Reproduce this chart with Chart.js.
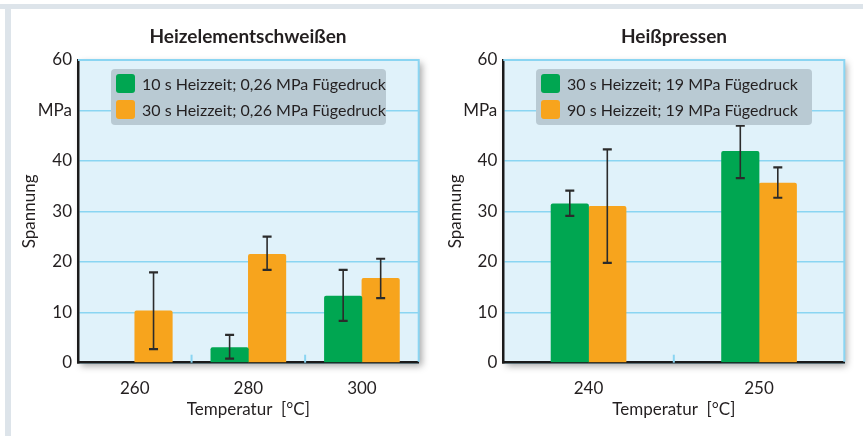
<!DOCTYPE html>
<html>
<head>
<meta charset="utf-8">
<script src="https://cdn.jsdelivr.net/npm/chart.js@4.4.1/dist/chart.umd.min.js"></script>
<style>
  body { margin: 0; background: #fff; font-family: Lato, sans-serif; color: #231f20; }
  #page { position: relative; width: 863px; height: 436px; overflow: hidden; }
  .frame-top { position: absolute; left: 0; top: 4px; width: 863px; height: 5px; background: #dde4ea; }
  .frame-left { position: absolute; left: 5px; top: 9px; width: 6px; height: 427px; background: #dde4ea; }
  .title { position: absolute; top: 24px; width: 300px; text-align: center; font-weight: bold; font-size: 19px; line-height: 24px; }
  .wrap { position: absolute; top: 0; }
  .legend { position: absolute; top: 69px; height: 56px; background: #b9cad3; border-radius: 4px; }
  .legend .item { position: absolute; left: 5px; height: 20px; white-space: nowrap; }
  .legend .sw { position: absolute; left: 0; top: 0; width: 19px; height: 19px; border-radius: 3px; }
  .legend .txt { position: absolute; left: 26px; top: -1px; font-size: 16px; line-height: 21px; }
</style>
</head>
<body>
<div id="page">
  <div class="frame-top"></div>
  <div class="frame-left"></div>

  <div class="wrap" style="left:0"><canvas id="weldChart" width="430" height="436"></canvas></div>
  <div class="wrap" style="left:430px"><canvas id="pressChart" width="433" height="436"></canvas></div>

  <div class="title" style="left:98px">Heizelementschweißen</div>
  <div class="title" style="left:524px">Heißpressen</div>

  <div class="legend" id="weldLegend" style="left:111px;width:275px"></div>
  <div class="legend" id="pressLegend" style="left:536px;width:276px"></div>
</div>

<script>
// axis
const yTickLabels = ['0', '10', '20', '30', '40', 'MPa', '60'];

// Heizelementschweißen
const weldCategories = ['260', '280', '300'];
const weldLabels = ['10 s Heizzeit; 0,26 MPa Fügedruck', '30 s Heizzeit; 0,26 MPa Fügedruck'];
const weldShort = [null, 3.0, 13.2];
const weldShortLow = [null, 0.8, 8.3];
const weldShortHigh = [null, 5.5, 18.4];
const weldLong = [10.3, 21.5, 16.7];
const weldLongLow = [2.7, 18.4, 12.8];
const weldLongHigh = [17.9, 25.0, 20.6];

// Heißpressen
const pressCategories = ['240', '250'];
const pressLabels = ['30 s Heizzeit; 19 MPa Fügedruck', '90 s Heizzeit; 19 MPa Fügedruck'];
const pressShort = [31.5, 41.9];
const pressShortLow = [29.1, 36.6];
const pressShortHigh = [34.1, 47.0];
const pressLong = [31.0, 35.6];
const pressLongLow = [19.8, 32.7];
const pressLongHigh = [42.3, 38.7];

const GREEN = '#00a651';
const ORANGE = '#f7a41d';
const PLOT_BG = '#e0f2fa';
const GRID = '#8ad5f2';
const INK = '#231f20';

Chart.defaults.font.family = 'Lato, sans-serif';
Chart.defaults.color = INK;

// shadow + background behind the plot area
const plotBackground = {
  id: 'plotBackground',
  beforeDraw(chart) {
    const { ctx, chartArea: a } = chart;
    ctx.save();
    ctx.shadowColor = 'rgba(0,0,0,0.35)';
    ctx.shadowBlur = 7;
    ctx.shadowOffsetX = 3;
    ctx.shadowOffsetY = 3;
    ctx.fillStyle = PLOT_BG;
    ctx.fillRect(a.left, a.top, a.right - a.left, a.bottom - a.top);
    ctx.restore();
  },
  beforeDatasetsDraw(chart) {
    // small marks between the categories
    const { ctx, chartArea: a, scales: { x } } = chart;
    ctx.save();
    ctx.strokeStyle = GRID;
    ctx.lineWidth = 2;
    for (let i = 1; i < x.ticks.length; i++) {
      const px = (x.getPixelForTick(i - 1) + x.getPixelForTick(i)) / 2;
      ctx.beginPath();
      ctx.moveTo(px, a.bottom);
      ctx.lineTo(px, a.bottom - 8);
      ctx.stroke();
    }
    ctx.restore();
  },
  afterDraw(chart) {
    // light blue top and right frame
    const { ctx, chartArea: a } = chart;
    ctx.save();
    ctx.strokeStyle = GRID;
    ctx.lineWidth = 2;
    ctx.beginPath();
    ctx.moveTo(a.left, a.top);
    ctx.lineTo(a.right, a.top);
    ctx.lineTo(a.right, a.bottom - 1);
    ctx.stroke();
    ctx.restore();
  }
};

const errorBars = {
  id: 'errorBars',
  afterDatasetsDraw(chart) {
    const { ctx, scales: { y } } = chart;
    ctx.save();
    ctx.strokeStyle = '#2b2b2b';
    chart.data.datasets.forEach((ds, di) => {
      const meta = chart.getDatasetMeta(di);
      ds.data.forEach((v, i) => {
        if (v === null || ds.errLow[i] === null) return;
        const x = meta.data[i].x;
        const yLo = y.getPixelForValue(ds.errLow[i]);
        const yHi = y.getPixelForValue(ds.errHigh[i]);
        ctx.lineWidth = 1.6;
        ctx.beginPath();
        ctx.moveTo(x, yLo);
        ctx.lineTo(x, yHi);
        ctx.stroke();
        ctx.lineWidth = 2.2;
        ctx.beginPath();
        ctx.moveTo(x - 4.5, yLo);
        ctx.lineTo(x + 4.5, yLo);
        ctx.moveTo(x - 4.5, yHi);
        ctx.lineTo(x + 4.5, yHi);
        ctx.stroke();
      });
    });
    ctx.restore();
  }
};

function makeChart(id, categories, labels, series, opts) {
  const colors = [GREEN, ORANGE];
  return new Chart(document.getElementById(id), {
    type: 'bar',
    data: {
      labels: categories,
      datasets: series.map((s, i) => ({
        label: labels[i],
        data: s.values,
        errLow: s.low,
        errHigh: s.high,
        backgroundColor: colors[i],
        borderWidth: 0,
        borderRadius: 2,
        barThickness: 37.5
      }))
    },
    options: {
      responsive: false,
      animation: false,
      layout: { padding: { top: 60, right: opts.right, left: 0, bottom: 0 } },
      plugins: { legend: { display: false }, tooltip: { enabled: false } },
      scales: {
        x: {
          grid: { display: false },
          border: { display: true, color: '#1a1a1a', width: 2.5 },
          ticks: { font: { size: 17 }, padding: 8, color: INK },
          title: { display: true, text: 'Temperatur  [°C]', font: { size: 17 }, color: INK, padding: { top: 0, bottom: 16 } },
          afterFit(scale) { scale.height = 73.3; }
        },
        y: {
          min: 0,
          max: 60,
          ticks: {
            stepSize: 10,
            font: { size: 17 },
            padding: 6,
            color: INK,
            callback: (v, i) => yTickLabels[i]
          },
          grid: { color: GRID, lineWidth: 1.5, drawTicks: false },
          border: { display: true, color: '#1a1a1a', width: 2.5 },
          title: { display: true, text: 'Spannung', font: { size: 17 }, color: INK, padding: { top: opts.titlePad, bottom: 0 } },
          afterFit(scale) { scale.width = opts.axisWidth; }
        }
      }
    },
    plugins: [plotBackground, errorBars]
  });
}

function makeLegend(id, labels) {
  const colors = [GREEN, ORANGE];
  const box = document.getElementById(id);
  labels.forEach((label, i) => {
    const item = document.createElement('div');
    item.className = 'item';
    item.style.top = (4.5 + i * 26.5) + 'px';
    item.innerHTML = '<span class="sw" style="background:' + colors[i] + '"></span><span class="txt"></span>';
    item.querySelector('.txt').textContent = label;
    box.appendChild(item);
  });
}

makeChart('weldChart', weldCategories, weldLabels, [
  { values: weldShort, low: weldShortLow, high: weldShortHigh },
  { values: weldLong, low: weldLongLow, high: weldLongHigh }
], { right: 11.3, axisWidth: 78, titlePad: 19 });

makeChart('pressChart', pressCategories, pressLabels, [
  { values: pressShort, low: pressShortLow, high: pressShortHigh },
  { values: pressLong, low: pressLongLow, high: pressLongHigh }
], { right: 18.7, axisWidth: 73.3, titlePad: 15 });

makeLegend('weldLegend', weldLabels);
makeLegend('pressLegend', pressLabels);
</script>
</body>
</html>
